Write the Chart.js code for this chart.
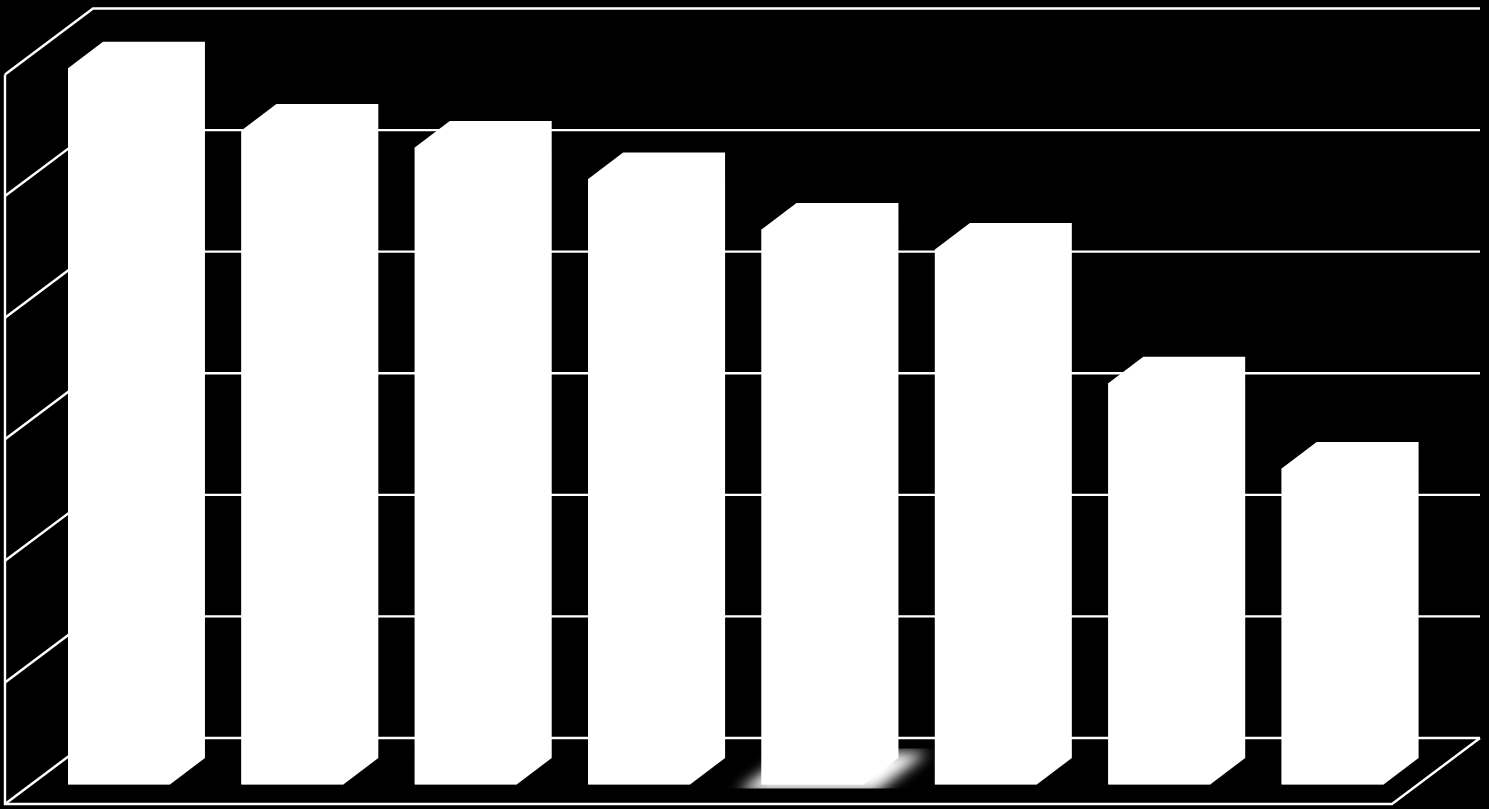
<!DOCTYPE html>
<html>
<head>
<meta charset="utf-8">
<style>
    html, body { margin: 0; padding: 0; background: #000; overflow: hidden; }
    #wrap { width: 1489px; height: 809px; position: relative; }
</style>
</head>
<body>
<div id="wrap"><canvas id="myChart"></canvas></div>
<script src="https://cdn.jsdelivr.net/npm/chart.js@4"></script>
<script>
// the picture has no text, so categories are just positions
const categories = ["1", "2", "3", "4", "5", "6", "7", "8"];
const values = [5.89, 5.38, 5.24, 4.98, 4.565, 4.40, 3.30, 2.60];
const yTicks = [0, 1, 2, 3, 4, 5, 6];

// offsets of the fake 3d box and bars, in pixels
const wallFront = { x: -27.3, y: 19.5 };
const wallBack = { x: 60.7, y: -46.5 };
const barDepth = { x: 35, y: -26.5 };

const fake3d = {
    id: 'fake3d',
    beforeDatasetsDraw(chart) {
        const c = chart.ctx;
        const xs = chart.scales.x, ys = chart.scales.y;
        const left = xs.left, right = xs.right;

        c.save();
        c.strokeStyle = '#fff';
        c.lineWidth = 2.4;
        c.lineJoin = 'miter';

        // left wall and back wall lines
        yTicks.forEach(function (t) {
            const y = ys.getPixelForValue(t);
            c.beginPath();
            c.moveTo(left + wallFront.x, y + wallFront.y);
            c.lineTo(left + wallBack.x, y + wallBack.y);
            c.lineTo(right + wallBack.x, y + wallBack.y);
            c.stroke();
        });

        // front edge of left wall and the floor
        const y0 = ys.getPixelForValue(yTicks[0]);
        const yTop = ys.getPixelForValue(yTicks[yTicks.length - 1]);
        c.beginPath();
        c.moveTo(left + wallFront.x, yTop + wallFront.y);
        c.lineTo(left + wallFront.x, y0 + wallFront.y);
        c.lineTo(right + wallFront.x, y0 + wallFront.y);
        c.lineTo(right + wallBack.x, y0 + wallBack.y);
        c.stroke();

        // blurry smear on the floor under bar 5
        const b = chart.getDatasetMeta(0).data[4];
        const bl = b.x - b.width / 2, br = b.x + b.width / 2;
        c.beginPath();
        c.rect(bl - 45, y0 - 36, b.width + 135, 40);
        c.clip();
        c.filter = 'blur(7px)';
        c.fillStyle = '#fff';
        c.beginPath();
        c.moveTo(bl - 24, y0 + 8);
        c.lineTo(br + 12, y0 + 8);
        c.lineTo(br + 64, y0 - 32);
        c.lineTo(bl + 28, y0 - 32);
        c.closePath();
        c.fill();
        c.restore();
    },
    afterDatasetsDraw(chart) {
        const c = chart.ctx;
        const y0 = chart.scales.y.getPixelForValue(0);

        // fill the whole bar outline so no seam shows against the chart.js face
        c.save();
        c.fillStyle = '#fff';
        chart.getDatasetMeta(0).data.forEach(function (b) {
            const l = b.x - b.width / 2, r = b.x + b.width / 2;
            c.beginPath();
            c.moveTo(l, y0);
            c.lineTo(l, b.y);
            c.lineTo(l + barDepth.x, b.y + barDepth.y);
            c.lineTo(r + barDepth.x, b.y + barDepth.y);
            c.lineTo(r + barDepth.x, y0 + barDepth.y);
            c.lineTo(r, y0);
            c.closePath();
            c.fill();
        });
        c.restore();
    }
};

document.addEventListener('DOMContentLoaded', function () {
    const ctx = document.getElementById("myChart");

    new Chart(ctx, {
        type: 'bar',
        data: {
            labels: categories,
            datasets: [{
                data: values,
                backgroundColor: '#fff',
                borderWidth: 0,
                barPercentage: 0.588,
                categoryPercentage: 1
            }]
        },
        options: {
            responsive: true,
            maintainAspectRatio: false,
            animation: false,
            layout: {
                padding: { left: 32.3, right: 69.7, top: 55, bottom: 24.5 }
            },
            scales: {
                x: { display: false },
                y: { display: false, min: 0, max: 6 }
            },
            plugins: {
                legend: { display: false },
                tooltip: { enabled: false },
                title: { display: false }
            }
        },
        plugins: [fake3d]
    });
});
</script>
</body>
</html>
